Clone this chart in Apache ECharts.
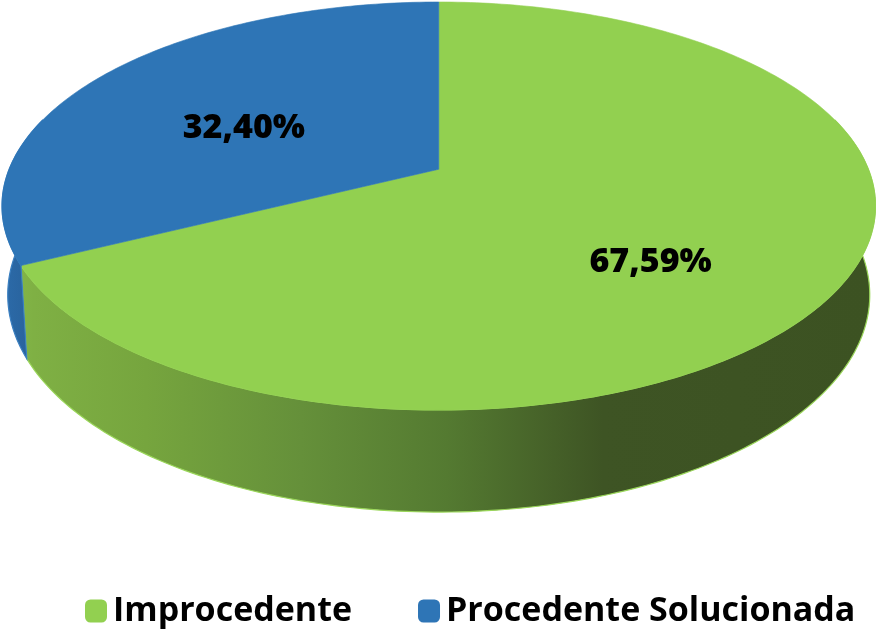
<!DOCTYPE html>
<html>
<head>
<meta charset="utf-8">
<script src="https://cdn.jsdelivr.net/npm/echarts/dist/echarts.min.js"></script>
<style>
html,body{margin:0;padding:0;background:#fff;}
#chart{width:876px;height:630px;}
</style>
</head>
<body>
<div id="chart"></div>
<script>
// ---- data ----
const categories = ['Improcedente', 'Procedente Solucionada'];
const values = [67.59, 32.40];
const labelTexts = ['67,59%', '32,40%'];

// ---- styles ----
const topColors = ['#92d050', '#2e75b6'];
const wallFills = [
  {type:'linear', x:8, y:0, x2:870, y2:0, global:true, colorStops:[
    {offset:0, color:'#84b848'},
    {offset:0.03, color:'#7fb044'},
    {offset:0.16, color:'#76a53e'},
    {offset:0.34, color:'#65903a'},
    {offset:0.51, color:'#547a31'},
    {offset:0.69, color:'#3e5424'},
    {offset:1, color:'#3c5222'}
  ]},
  {type:'linear', x:0, y:0, x2:40, y2:0, global:true, colorStops:[
    {offset:0, color:'#2c6cab'},
    {offset:1, color:'#285f97'}
  ]}
];
const wallStrokes = ['#9ad65a', '#3a7fc0'];
const labelShift = [[0, -5], [17, -17]];   // fine placement of the percentage labels (px)

// ---- 3D projection parameters (tilted disc seen in perspective) ----
const TILT_S = 0.459;
const TILT_C = Math.sqrt(1 - TILT_S * TILT_S);
const DIST = 4.93;
const DEPTH = 0.2306;
const VERT_PERSP = 0.6;   // weaker perspective along the vertical (thickness) axis
const START_DEG = -90;    // first slice starts at 12 o'clock, clockwise
const BOX = {left: 2, right: 875.5, top: 2, bottom: 410};

const total = values.reduce((a, b) => a + b, 0);
const cum = [0];
values.forEach(v => cum.push(cum[cum.length - 1] + v));

function proj(deg, h, r) {
  const p = deg * Math.PI / 180;
  const x = r * Math.cos(p), z = r * Math.sin(p);
  const v = TILT_S * z - TILT_C * h;
  const w = TILT_C * z + TILT_S * h * VERT_PERSP;
  const sc = DIST / (DIST - w);
  return [x * sc, v * sc];
}
let minX = Infinity, maxX = -Infinity, minY = Infinity, maxY = -Infinity;
for (let d = 0; d < 360; d += 0.25) {
  const q = proj(d, 0, 1);
  minX = Math.min(minX, q[0]); maxX = Math.max(maxX, q[0]);
  minY = Math.min(minY, q[1]); maxY = Math.max(maxY, q[1]);
}
function px(deg, h, r) {
  const q = proj(deg, h, r);
  return [
    BOX.left + (q[0] - minX) / (maxX - minX) * (BOX.right - BOX.left),
    BOX.top + (q[1] - minY) / (maxY - minY) * (BOX.bottom - BOX.top)
  ];
}

function renderSlice(params, api) {
  const i = params.seriesIndex;
  const a1 = START_DEG + 360 * cum[i] / total;
  const a2 = START_DEG + 360 * (cum[i] + api.value(0)) / total;
  const children = [];
  // outer wall (front part)
  const wa = Math.max(a1, -15), wb = Math.min(a2, 195);
  if (wb > wa) {
    const n = Math.max(2, Math.ceil(wb - wa));
    const pts = [];
    for (let k = 0; k <= n; k++) pts.push(px(wa + (wb - wa) * k / n, 0, 1));
    for (let k = n; k >= 0; k--) pts.push(px(wa + (wb - wa) * k / n, -DEPTH, 1));
    children.push({type:'polygon', shape:{points:pts},
      style:{fill: wallFills[i], stroke: wallStrokes[i], lineWidth: 1.2}});
  }
  // top face
  const n2 = Math.max(2, Math.ceil(a2 - a1));
  const tp = [px(0, 0, 0)];
  for (let k = 0; k <= n2; k++) tp.push(px(a1 + (a2 - a1) * k / n2, 0, 1));
  children.push({type:'polygon', shape:{points:tp},
    style:{fill: topColors[i], stroke: topColors[i], lineWidth: 0.6}});
  // label
  const mid = ((a1 + a2) / 2) * Math.PI / 180;
  const cxE = (BOX.left + BOX.right) / 2, cyE = (BOX.top + BOX.bottom) / 2;
  const rxE = (BOX.right - BOX.left) / 2, ryE = (BOX.bottom - BOX.top) / 2;
  const lr = 0.57;
  children.push({type:'text',
    x: cxE + rxE * lr * Math.cos(mid) + labelShift[i][0],
    y: cyE + ryE * lr * Math.sin(mid) + labelShift[i][1],
    style:{text: labelTexts[i], fill:'#000', align:'center', verticalAlign:'middle',
      font: '800 34px "Open Sans"'}});
  return {type:'group', children};
}

const chart = echarts.init(document.getElementById('chart'), null, {renderer:'canvas'});
chart.setOption({
  animation: false,
  backgroundColor: '#fff',
  legend: {
    data: categories,
    left: 85, top: 594, width: 790,
    padding: 0,
    icon: 'roundRect',
    itemWidth: 22, itemHeight: 23, itemGap: 66,
    selectedMode: false,
    textStyle: {fontFamily: 'Open Sans', fontWeight: 'bold', fontSize: 34, color: '#000', padding:[0,0,0,1]}
  },
  series: categories.map((name, i) => ({
    type: 'custom',
    name: name,
    coordinateSystem: 'none',
    silent: true,
    itemStyle: {color: topColors[i]},
    renderItem: renderSlice,
    data: [[values[i]]]
  }))
});
</script>
</body>
</html>
